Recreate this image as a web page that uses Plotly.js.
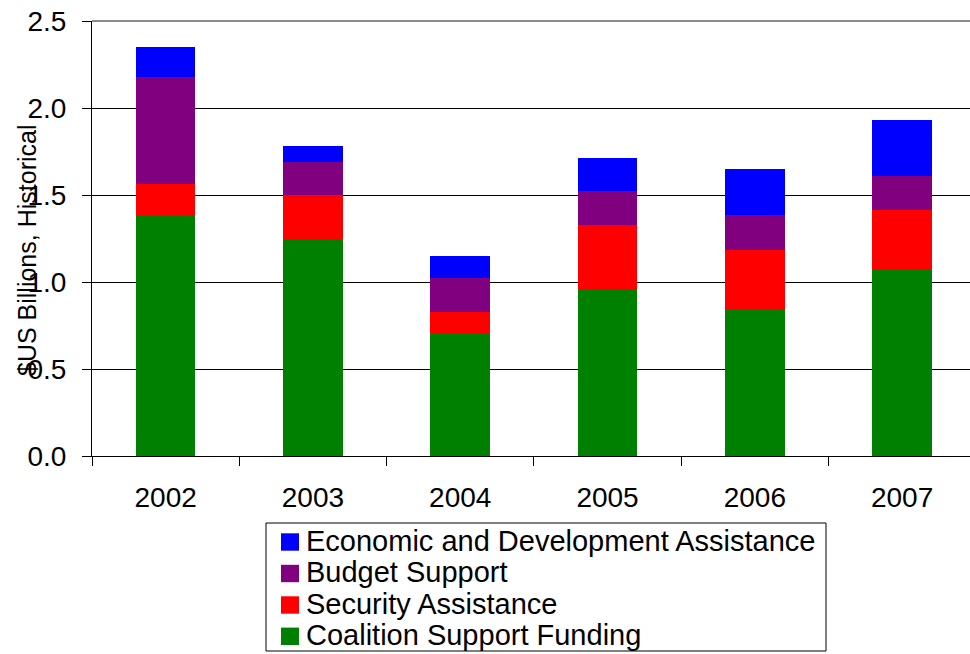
<!DOCTYPE html>
<html>
<head>
<meta charset="utf-8">
<script src="https://cdn.plot.ly/plotly-3.0.1.min.js"></script>
<style>html,body{margin:0;padding:0;background:#fff;overflow:hidden;}#chart{width:970px;height:654px;}</style>
</head>
<body>
<div id="chart"></div>
<script>
const years = ["2002", "2003", "2004", "2005", "2006", "2007"];
const coalitionSupport = [1.384, 1.242, 0.702, 0.959, 0.840, 1.074];
const securityAssistance = [0.180, 0.257, 0.126, 0.368, 0.343, 0.341];
const budgetSupport = [0.613, 0.190, 0.194, 0.195, 0.201, 0.193];
const economicDevelopment = [0.173, 0.092, 0.126, 0.190, 0.265, 0.322];
const seriesNames = ["Coalition Support Funding", "Security Assistance", "Budget Support", "Economic and Development Assistance"];
const seriesColors = ["#008000", "#ff0000", "#800080", "#0000ff"];
const yTicks = [0, 0.5, 1.0, 1.5, 2.0, 2.5];
const yTitle = "$US Billions, Historical";

const seriesValues = [coalitionSupport, securityAssistance, budgetSupport, economicDevelopment];
const FONT = "Liberation Sans, Arial, Helvetica, sans-serif";

const traces = seriesValues.map((vals, i) => ({
  type: "bar",
  x: years,
  y: vals,
  name: seriesNames[i],
  marker: {color: seriesColors[i], line: {width: 0}},
  width: 0.405,
  showlegend: false,
  hoverinfo: "x+y+name"
}));

// Legend box drawn in paper coordinates (layout only, not data marks)
const W = 878, H = 435;            // plot area in px
const px = v => (v - 92) / W;      // page x -> paper x
const py = v => (456 - v) / H;     // page y -> paper y
const shapes = [
  {type: "line", xref: "paper", yref: "paper", x0: 0, x1: 1, y0: 1, y1: 1,
   line: {color: "#8c8c8c", width: 2}, layer: "above"},
  {type: "rect", xref: "paper", yref: "paper",
   x0: px(266), x1: px(826), y0: py(651), y1: py(523),
   line: {color: "#000000", width: 1}, fillcolor: "#ffffff", layer: "above"}
];
const annotations = [{
  text: yTitle,
  xref: "paper", yref: "paper",
  x: px(27), y: py(251),
  xanchor: "center", yanchor: "middle",
  textangle: -90,
  showarrow: false,
  font: {family: FONT, size: 25, color: "#000000"}
}];
const rowCenters = [542, 573.5, 605, 636.3];
for (let r = 0; r < seriesNames.length; r++) {
  const i = seriesNames.length - 1 - r;
  const c = rowCenters[r];
  shapes.push({type: "rect", xref: "paper", yref: "paper",
    x0: px(281), x1: px(299), y0: py(c + 8.7), y1: py(c - 8.7),
    line: {width: 0}, fillcolor: seriesColors[i], layer: "above"});
  annotations.push({text: seriesNames[i], xref: "paper", yref: "paper",
    x: px(304), y: py(c - 1.5), xanchor: "left", yanchor: "middle",
    showarrow: false, font: {family: FONT, size: 29, color: "#000000"}});
}

const layout = {
  width: 970,
  height: 654,
  margin: {l: 92, r: 0, t: 21, b: 198, pad: 0},
  paper_bgcolor: "#ffffff",
  plot_bgcolor: "#ffffff",
  barmode: "stack",
  showlegend: false,
  font: {family: FONT, color: "#000000", size: 28},
  xaxis: {
    type: "category",
    range: [-0.5, 5.461],
    tickson: "boundaries",
    ticks: "outside",
    ticklen: 9,
    tickwidth: 1,
    tickcolor: "#000000",
    showline: true,
    linecolor: "#000000",
    linewidth: 1,
    showgrid: false,
    zeroline: false,
    automargin: false,
    tickfont: {family: FONT, size: 28, color: "#000000"},
    ticklabelstandoff: 16,
    fixedrange: true
  },
  yaxis: {
    range: [0, 2.5],
    tickvals: yTicks,
    tickformat: ".1f",
    ticks: "outside",
    ticklen: 9,
    tickwidth: 1,
    tickcolor: "#000000",
    showline: true,
    linecolor: "#000000",
    linewidth: 1,
    showgrid: true,
    gridcolor: "#000000",
    gridwidth: 1,
    zeroline: false,
    automargin: false,
    tickfont: {family: FONT, size: 28, color: "#000000"},
    ticklabelstandoff: 10,
    fixedrange: true
  },
  shapes: shapes,
  annotations: annotations
};

Plotly.newPlot("chart", traces, layout, {displayModeBar: false, staticPlot: true});
</script>
</body>
</html>
